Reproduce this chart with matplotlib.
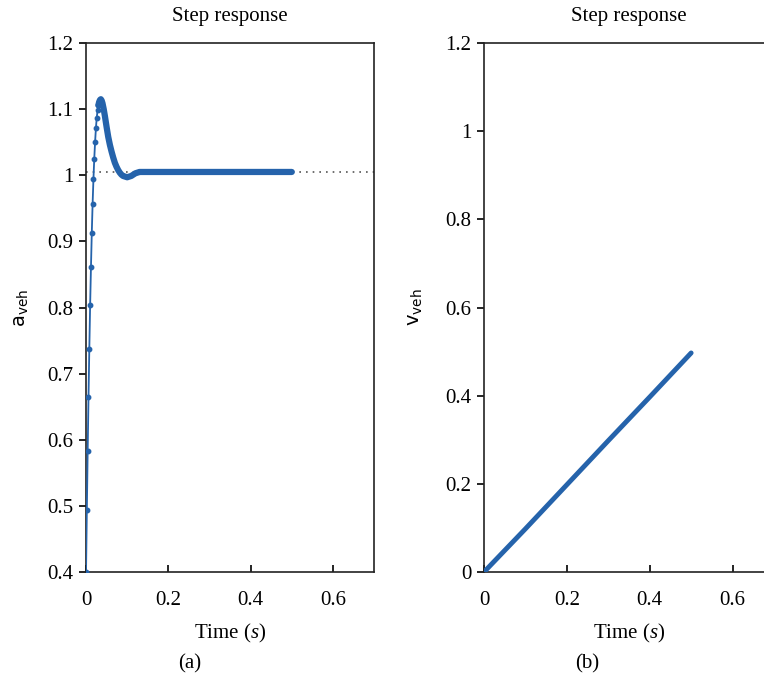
import matplotlib
matplotlib.use("Agg")
import matplotlib.pyplot as plt
from matplotlib.ticker import FuncFormatter

plt.rcParams["font.family"] = ["Liberation Serif", "DejaVu Serif"]
plt.rcParams["mathtext.fontset"] = "custom"
plt.rcParams["mathtext.rm"] = "Liberation Serif"
plt.rcParams["mathtext.it"] = "Liberation Serif:italic"
plt.rcParams["mathtext.sf"] = "DejaVu Sans"

# sampled acceleration rise (markers visible)
t_rise = [0.000, 0.002, 0.004, 0.006, 0.008, 0.010, 0.012, 0.014, 0.016,
          0.018, 0.020, 0.022, 0.024, 0.026, 0.028, 0.030, 0.032]
a_rise = [0.400, 0.494, 0.583, 0.664, 0.738, 0.804, 0.861, 0.913, 0.957,
          0.994, 1.025, 1.050, 1.071, 1.087, 1.098, 1.106, 1.111]

# overshoot and settling (samples so dense they merge)
t_tail = [0.030, 0.032, 0.034, 0.036, 0.038, 0.040, 0.043, 0.046, 0.050,
          0.054, 0.058, 0.062, 0.066, 0.070, 0.074, 0.078, 0.082, 0.086,
          0.090, 0.095, 0.100, 0.105, 0.110, 0.115, 0.120, 0.125, 0.130,
          0.135, 0.500]
a_tail = [1.106, 1.111, 1.114, 1.115, 1.113, 1.109, 1.100, 1.089, 1.073,
          1.058, 1.046, 1.036, 1.027, 1.019, 1.013, 1.008, 1.004, 1.001,
          0.999, 0.998, 0.997, 0.998, 0.999, 1.001, 1.003, 1.004, 1.005,
          1.005, 1.005]
a_final = 1.005

# vehicle speed
t_v = [0.0, 0.1, 0.2, 0.3, 0.4, 0.5]
v_veh = [0.0, 0.098, 0.198, 0.298, 0.397, 0.497]

blue = "#2563ab"
fs = 15
fig = plt.figure(figsize=(7.64, 6.84), dpi=100)
ax1 = fig.add_axes([0.1126, 0.1637, 0.377, 0.7734])
ax2 = fig.add_axes([0.6335, 0.1637, 0.3796, 0.7734])

ax1.plot([0, 0.7], [a_final, a_final], ls=(0, (1, 3)), color="#555555", lw=1.2, zorder=1)
ax1.plot(t_rise, a_rise, "-o", color=blue, lw=1.3, ms=3.2, zorder=3)
ax1.plot(t_tail, a_tail, color=blue, lw=4.5, solid_capstyle="round", zorder=3)
ax1.set_ylim(0.4, 1.2)
ax1.set_yticks([0.4, 0.5, 0.6, 0.7, 0.8, 0.9, 1.0, 1.1, 1.2])
ax1.set_ylabel(r"$\mathsf{a_{veh}}$", fontsize=14, labelpad=12)

ax2.plot(t_v, v_veh, color=blue, lw=3.5, solid_capstyle="round", zorder=3)
ax2.set_ylim(0, 1.2)
ax2.set_yticks([0, 0.2, 0.4, 0.6, 0.8, 1.0, 1.2])
ax2.set_ylabel(r"$\mathsf{v_{veh}}$", fontsize=14, labelpad=15)

fmt = FuncFormatter(lambda v, p: f"{v:g}")
for ax in (ax1, ax2):
    ax.set_xlim(0, 0.7)
    ax.set_xticks([0, 0.2, 0.4, 0.6])
    ax.xaxis.set_major_formatter(fmt)
    ax.yaxis.set_major_formatter(fmt)
    ax.tick_params(axis="y", direction="out", length=5, width=1.2, labelsize=fs, pad=4)
    ax.tick_params(axis="x", direction="in", length=5, width=1.2, labelsize=fs, pad=14)
    for s in ax.spines.values():
        s.set_linewidth(1.2)
        s.set_color("#222222")
    ax.set_title("Step response", fontsize=fs, pad=16)
    ax.set_xlabel(r"Time ($\mathit{s}$)", fontsize=fs, labelpad=8)

fig.text(190 / 764, 1 - 664 / 684, "(a)", ha="center", va="center", fontsize=fs)
fig.text(587 / 764, 1 - 664 / 684, "(b)", ha="center", va="center", fontsize=fs)

fig.savefig("out.png", dpi=100)
